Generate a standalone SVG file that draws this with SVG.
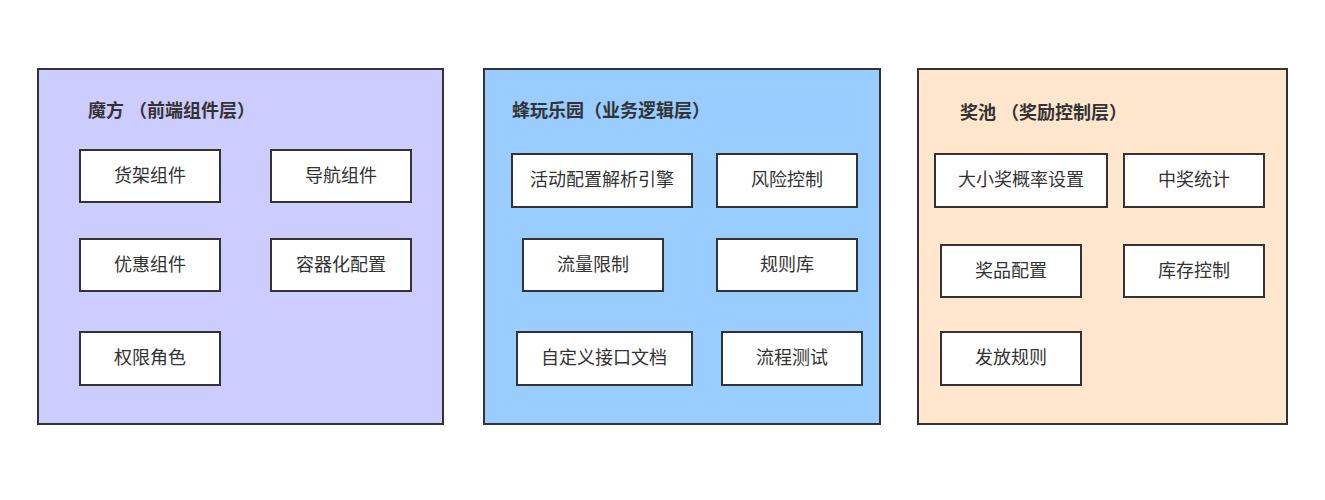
<svg xmlns="http://www.w3.org/2000/svg" width="1325" height="500" viewBox="0 0 1325 500">
<style>
.p{stroke:#333;stroke-width:2}
.b{fill:#fff;stroke:#333;stroke-width:2}
text{font-family:"Liberation Sans","Noto Sans CJK SC",sans-serif;font-size:18px;fill:#333}
.t{font-weight:bold;font-size:18px}
.c{text-anchor:middle;dominant-baseline:central}
</style>
<rect width="1325" height="500" fill="#fff"/>
<g id="panel1"><rect class="p" x="38" y="69" width="405" height="355" fill="#ccccff"/><text class="t" x="88" y="117">魔方 （前端组件层）</text></g>
<g id="panel2"><rect class="p" x="484" y="69" width="396" height="355" fill="#99ccff"/><text class="t" x="512" y="117">蜂玩乐园（业务逻辑层）</text></g>
<g id="panel3"><rect class="p" x="918" y="69" width="369" height="355" fill="#ffe6cc"/><text class="t" x="960" y="119">奖池 （奖励控制层）</text></g>
<g id="n1"><rect class="b" x="80" y="150" width="140" height="52"/><text class="c" x="150" y="176">货架组件</text></g>
<g id="n2"><rect class="b" x="271" y="150" width="140" height="52"/><text class="c" x="341" y="176">导航组件</text></g>
<g id="n3"><rect class="b" x="80" y="239" width="140" height="52"/><text class="c" x="150" y="265">优惠组件</text></g>
<g id="n4"><rect class="b" x="271" y="239" width="140" height="52"/><text class="c" x="341" y="265">容器化配置</text></g>
<g id="n5"><rect class="b" x="80" y="332" width="140" height="53"/><text class="c" x="150" y="358">权限角色</text></g>
<g id="n6"><rect class="b" x="512" y="154" width="180" height="53"/><text class="c" x="602" y="180">活动配置解析引擎</text></g>
<g id="n7"><rect class="b" x="717" y="154" width="140" height="53"/><text class="c" x="787" y="180">风险控制</text></g>
<g id="n8"><rect class="b" x="523" y="239" width="140" height="52"/><text class="c" x="593" y="265">流量限制</text></g>
<g id="n9"><rect class="b" x="717" y="239" width="140" height="52"/><text class="c" x="787" y="265">规则库</text></g>
<g id="n10"><rect class="b" x="517" y="332" width="175" height="53"/><text class="c" x="604" y="358">自定义接口文档</text></g>
<g id="n11"><rect class="b" x="722" y="332" width="140" height="53"/><text class="c" x="792" y="358">流程测试</text></g>
<g id="n12"><rect class="b" x="935" y="154" width="172" height="53"/><text class="c" x="1021" y="180">大小奖概率设置</text></g>
<g id="n13"><rect class="b" x="1124" y="154" width="140" height="53"/><text class="c" x="1194" y="180">中奖统计</text></g>
<g id="n14"><rect class="b" x="941" y="245" width="140" height="52"/><text class="c" x="1011" y="271">奖品配置</text></g>
<g id="n15"><rect class="b" x="1124" y="245" width="140" height="52"/><text class="c" x="1194" y="271">库存控制</text></g>
<g id="n16"><rect class="b" x="941" y="332" width="140" height="53"/><text class="c" x="1011" y="358">发放规则</text></g>
<g id="connectors"/>
</svg>
